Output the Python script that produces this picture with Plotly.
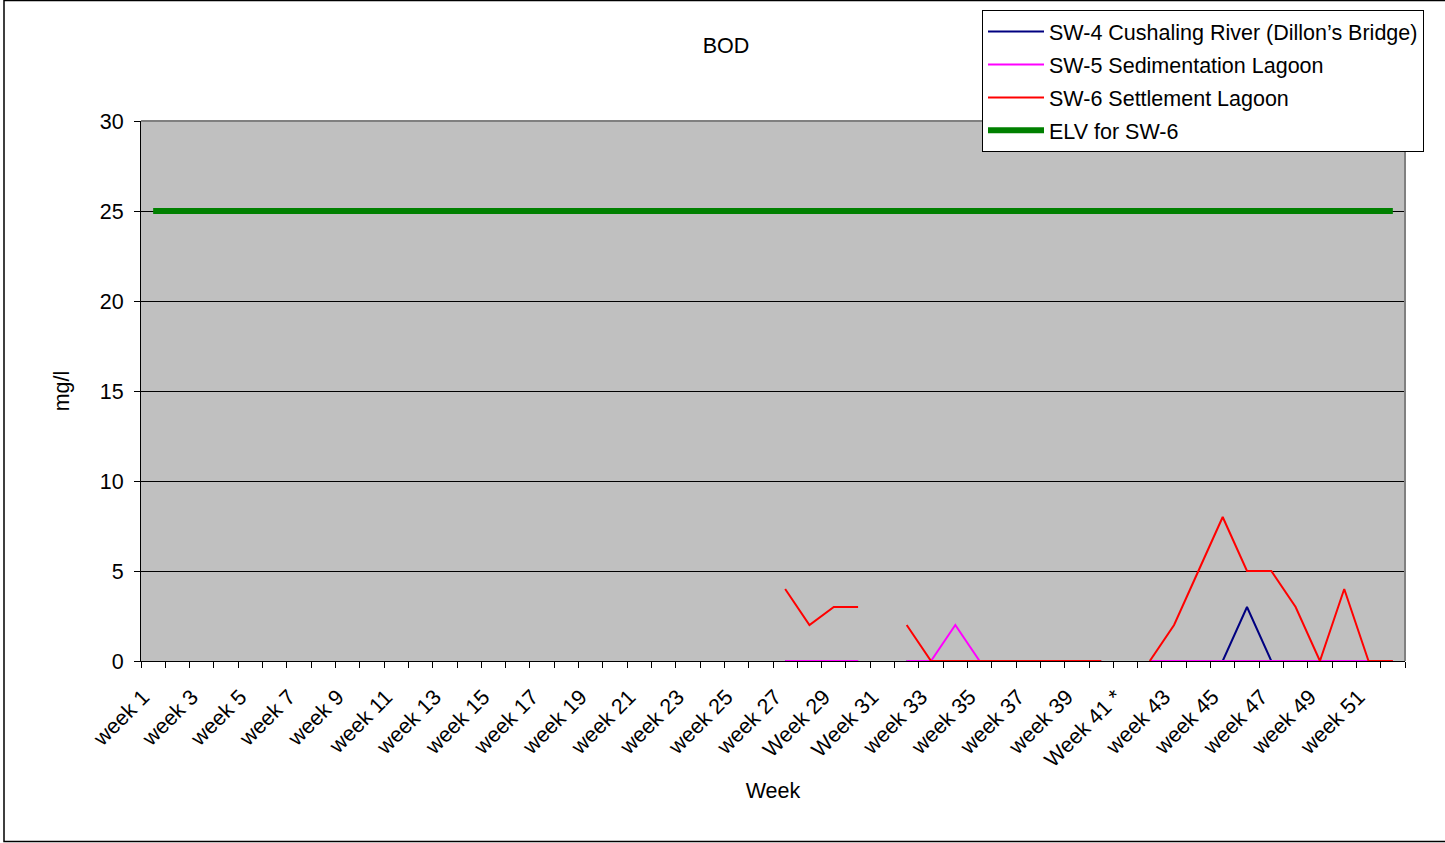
import plotly.graph_objects as go

N = None

weeks = [
    "week 1", "week 2", "week 3", "week 4", "week 5", "week 6", "week 7", "week 8",
    "week 9", "week 10", "week 11", "week 12", "week 13", "week 14", "week 15", "week 16",
    "week 17", "week 18", "week 19", "week 20", "week 21", "week 22", "week 23", "week 24",
    "week 25", "week 26", "week 27", "week 28", "Week 29", "week 30", "Week 31", "week 32",
    "week 33", "week 34", "week 35", "week 36", "week 37", "week 38", "week 39", "week 40",
    "Week 41 *", "week 42", "week 43", "week 44", "week 45", "week 46", "week 47", "week 48",
    "week 49", "week 50", "week 51", "week 52",
]

# BOD results (mg/l); None = no sample taken that week
sw4 = [N] * 26 + [0, 0, 0, 0, N, 0, 0, 0, 0, 0, 0, 0, 0, 0, N,
                  0, 0, 0, 0, 3, 0, 0, 0, 0, 0, 0]
sw5 = [N] * 26 + [0, 0, 0, 0, N, 0, 0, 2, 0, 0, 0, 0, 0, 0, N,
                  0, 0, 0, 0, 0, 0, 0, 0, 0, 0, 0]
sw6 = [N] * 26 + [4, 2, 3, 3, N, 2, 0, 0, 0, 0, 0, 0, 0, 0, N,
                  0, 2, 5, 8, 5, 5, 3, 0, 4, 0, 0]
elv = [25] * 52

# label every second week only
tick_text = [w if i % 2 == 0 else "" for i, w in enumerate(weeks)]

FONT = "Liberation Sans, Arial, sans-serif"
FS = 21.5

fig = go.Figure()
series = [
    ("SW-4 Cushaling River (Dillon\u2019s Bridge)", sw4, "#000080", 2),
    ("SW-5 Sedimentation Lagoon", sw5, "#ff00ff", 2),
    ("SW-6 Settlement Lagoon", sw6, "#ff0000", 2),
    ("ELV for SW-6", elv, "#008000", 6),
]
for i, (name, vals, color, width) in enumerate(series):
    fig.add_trace(go.Scatter(
        x=weeks, y=vals, name=name, mode="lines",
        line=dict(color=color, width=width),
        connectgaps=False, legendgroup=f"g{i}",
    ))

L, R, T, B = 141, 40, 121, 182
W, H = 1445, 843
pw, ph = W - L - R, H - T - B


def px_x(x):
    return (x - L) / pw


def px_y(y):
    return (H - B - y) / ph


fig.update_layout(
    width=W, height=H,
    margin=dict(l=L, r=R, t=T, b=B, autoexpand=False),
    paper_bgcolor="white",
    plot_bgcolor="#c0c0c0",
    font=dict(family=FONT, size=FS, color="black"),
    title=dict(text="BOD", x=726 / W, xanchor="center", y=1 - 45 / H, yanchor="middle",
               font=dict(size=FS)),
    showlegend=True,
    legend=dict(
        x=px_x(982), y=px_y(10), xanchor="left", yanchor="top",
        bgcolor="white", bordercolor="black", borderwidth=1,
        font=dict(size=FS), tracegroupgap=2, traceorder="grouped",
        itemwidth=56,
    ),
    xaxis=dict(
        type="category", categoryorder="array", categoryarray=weeks,
        tickmode="array", tickvals=weeks, ticktext=tick_text,
        tickson="boundaries", ticks="outside", ticklen=6, tickcolor="black",
        tickangle=-45, ticklabelstandoff=14, ticklabelshift=-10,
        showgrid=False, showline=True, linecolor="black", linewidth=1,
        range=[-0.5, 51.5],
        title=dict(text="Week", standoff=11, font=dict(size=FS)),
    ),
    yaxis=dict(
        range=[0, 30], dtick=5, tick0=0, ticks="outside", ticklen=6, tickcolor="black",
        ticklabelstandoff=6,
        showgrid=True, gridcolor="black", gridwidth=1, zeroline=False,
        showline=True, linecolor="black", linewidth=1,
        title=dict(text="mg/l", standoff=24, font=dict(size=FS)),
    ),
    shapes=[
        # plot area frame (top and right)
        dict(type="line", xref="paper", yref="paper", x0=0, x1=1, y0=1, y1=1,
             line=dict(color="#808080", width=2), layer="above"),
        dict(type="line", xref="paper", yref="paper", x0=1, x1=1, y0=0, y1=1,
             line=dict(color="#808080", width=2), layer="above"),
        # chart frame
        dict(type="rect", xref="paper", yref="paper",
             x0=px_x(4), x1=px_x(1460), y0=px_y(841.5), y1=px_y(0.5),
             line=dict(color="black", width=1.5), fillcolor="rgba(0,0,0,0)", layer="above"),
    ],
)

fig.write_html("out.html")
